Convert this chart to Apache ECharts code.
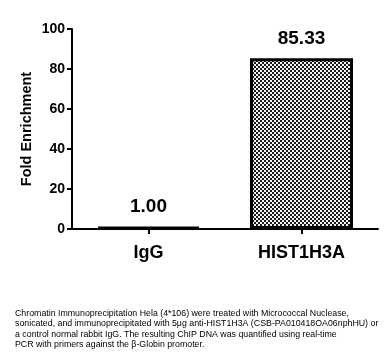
<!DOCTYPE html>
<html><head><meta charset="utf-8">
<script src="https://cdn.jsdelivr.net/npm/echarts@6/dist/echarts.min.js"></script>
<style>html,body{margin:0;padding:0;background:#fff}#c{width:388px;height:360px}</style>
</head><body><div id="c"></div>
<script>
var categories = ['IgG', 'HIST1H3A'];
var values = [1.00, 85.33];
var valueLabels = ['1.00', '85.33'];
var yTicks = [0, 20, 40, 60, 80, 100];
var yAxisName = 'Fold Enrichment';
var captionLines = [
  'Chromatin Immunoprecipitation Hela (4*106) were treated with Micrococcal Nuclease,',
  'sonicated, and immunoprecipitated with 5\u03bcg anti-HIST1H3A (CSB-PA010418OA06nphHU) or',
  'a control normal rabbit IgG. The resulting ChIP DNA was quantified using real-time',
  'PCR with primers against the \u03b2-Globin promoter.'
];

var pc = document.createElement('canvas');
pc.width = 4; pc.height = 4;
var g = pc.getContext('2d');
g.fillStyle = '#f4f4f4'; g.fillRect(0,0,4,4);
g.fillStyle = '#1a1a1a';
g.fillRect(0,0,2,2); g.fillRect(2,2,2,2);

var chart = echarts.init(document.getElementById('c'));
var font = 'Liberation Sans, Arial, sans-serif';
chart.setOption({
  animation: false,
  grid: {left: 72, right: 10, top: 29, bottom: 131, containLabel: false},
  xAxis: {
    type: 'category', data: categories,
    axisLine: {lineStyle: {color: '#000', width: 2}},
    axisTick: {show: true, alignWithLabel: true, length: 5, lineStyle: {color: '#000', width: 2}},
    axisLabel: {color: '#000', fontFamily: font, fontWeight: 'bold', fontSize: 18, margin: 15}
  },
  yAxis: {
    type: 'value', min: yTicks[0], max: yTicks[yTicks.length-1], interval: 20,
    name: yAxisName, nameLocation: 'middle', nameGap: 38, nameMoveOverlap: false,
    nameTextStyle: {color: '#000', fontFamily: font, fontWeight: 'bold', fontSize: 14.5},
    axisLine: {show: true, lineStyle: {color: '#000', width: 2}},
    axisTick: {show: true, length: 5, lineStyle: {color: '#000', width: 2}},
    splitLine: {show: false},
    axisLabel: {color: '#000', fontFamily: font, fontWeight: 'bold', fontSize: 14, margin: 7}
  },
  series: [{
    type: 'bar', barWidth: 103,
    data: values.map(function(v, i){
      return {value: v, itemStyle: i === 1 ? {color: {image: pc, repeat: 'repeat'}, borderColor: '#000', borderWidth: 3} : {color: '#000', borderColor: '#000', borderWidth: 3}};
    }),
    label: {show: true, position: 'top', distance: 10, color: '#000', fontFamily: font, fontWeight: 'bold', fontSize: 19,
      formatter: function(p){ return valueLabels[p.dataIndex]; }}
  }],
  graphic: captionLines.map(function(t, i){
    return {type: 'text', left: 15, top: 309 + i * 10.4, style: {text: t, fill: '#000', font: '8.8px Liberation Sans, Arial, sans-serif'}};
  })
});
</script></body></html>
